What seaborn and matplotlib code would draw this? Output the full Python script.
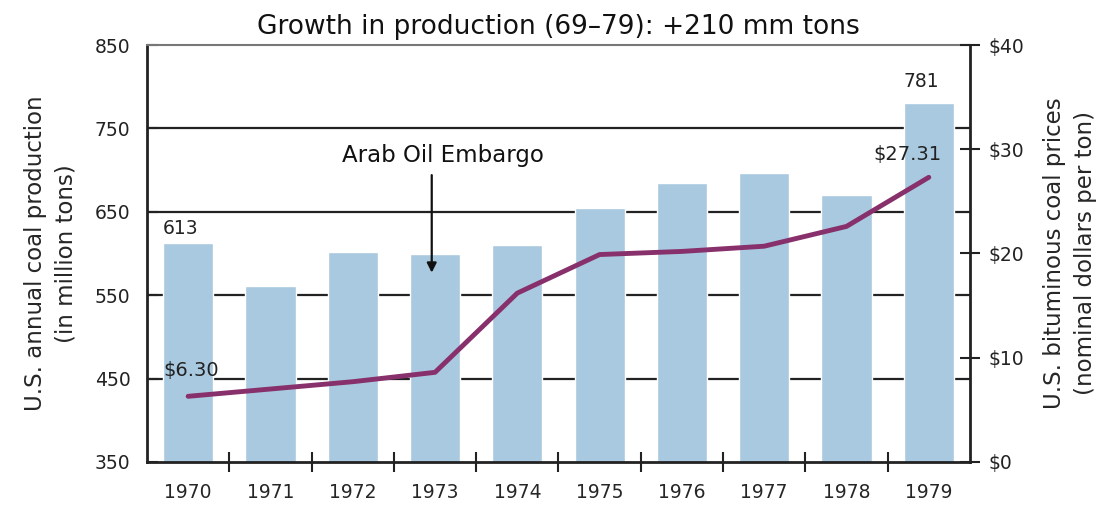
import numpy as np
import pandas as pd
import matplotlib
matplotlib.use("Agg")
import matplotlib.pyplot as plt
import seaborn as sb

years = ["1970", "1971", "1972", "1973", "1974", "1975", "1976", "1977", "1978", "1979"]
production = [613, 561, 602, 599, 610, 655, 684, 697, 670, 781]
price = [6.30, 7.0, 7.7, 8.6, 16.2, 19.9, 20.2, 20.7, 22.6, 27.31]
left_ticks = [350, 450, 550, 650, 750, 850]
right_ticks = [0, 10, 20, 30, 40]

sb.set_style("white")
plt.rcParams["font.family"] = ["DejaVu Sans"]

df = pd.DataFrame({"year": years, "production": production, "price": price})

fig = plt.figure(figsize=(11.06, 5.07), dpi=100)
ax = fig.add_axes([0.1329, 0.0888, 0.7441, 0.8224])
ax.set_axisbelow(True)
for v in left_ticks[1:-1]:
    ax.axhline(v, color="#222222", lw=1.6, zorder=0)

sb.barplot(data=df, x="year", y="production", color="#a8c9df", saturation=1,
           width=0.61, ax=ax, zorder=2)
ax.set_ylim(350, 850)
ax.set_xlim(-0.5, 9.5)
ax.set_yticks(left_ticks)
ax.set_xlabel("")
ax.set_ylabel("U.S. annual coal production\n(in million tons)", fontsize=16.5,
              labelpad=12, linespacing=1.45)
ax.tick_params(axis="y", left=True, direction="in", length=8, width=1.5,
               labelsize=13.5, pad=12, colors="#222222")
ax.tick_params(axis="x", which="major", length=0, labelsize=13.5, pad=15)
ax.set_xticks(np.arange(0.5, 9.5, 1), minor=True)
ax.tick_params(axis="x", which="minor", bottom=True, direction="inout", length=14, width=1.5,
               color="#222222")
for s in ["left", "bottom"]:
    ax.spines[s].set_color("#222222")
    ax.spines[s].set_linewidth(2)
ax.spines["top"].set_color("#777777")
ax.spines["top"].set_linewidth(1.5)
ax.spines["right"].set_visible(False)

ax.text(-0.31, production[0] + 6, "613", fontsize=13.5, ha="left", va="bottom", color="#222222")
ax.text(8.69, production[-1] + 14, "781", fontsize=13.5, ha="left", va="bottom", color="#222222")
ax.annotate("", xy=(2.96, 577), xytext=(2.96, 694),
            arrowprops=dict(arrowstyle="-|>", color="#111111", lw=1.6,
                            mutation_scale=14, shrinkA=0, shrinkB=0))
ax.text(3.1, 718, "Arab Oil Embargo", ha="center", va="center", fontsize=16.5, color="#111111")

ax2 = ax.twinx()
sb.lineplot(x=np.arange(len(years)), y=price, color="#87306b", lw=3.5, ax=ax2, zorder=3)
ax2.set_ylim(0, 40)
ax2.set_yticks(right_ticks)
ax2.set_yticklabels(["$%d" % t for t in right_ticks])
ax2.set_ylabel("U.S. bituminous coal prices\n(nominal dollars per ton)", fontsize=16.5,
               labelpad=14, linespacing=1.45)
ax2.tick_params(axis="y", right=True, direction="inout", length=14, width=1.5,
                labelsize=13.5, pad=6, colors="#222222")
for s in ["left", "top", "bottom"]:
    ax2.spines[s].set_visible(False)
ax2.spines["right"].set_color("#222222")
ax2.spines["right"].set_linewidth(2)
ax2.text(-0.3, price[0] + 1.6, "$6.30", fontsize=14, ha="left", va="bottom", color="#222222")
ax2.text(9.15, price[-1] + 1.3, "$27.31", fontsize=14, ha="right", va="bottom", color="#222222")

ax.set_title("Growth in production (69\u201379): +210 mm tons", fontsize=19, pad=8, color="#111111")

fig.savefig("out.png", dpi=100)
